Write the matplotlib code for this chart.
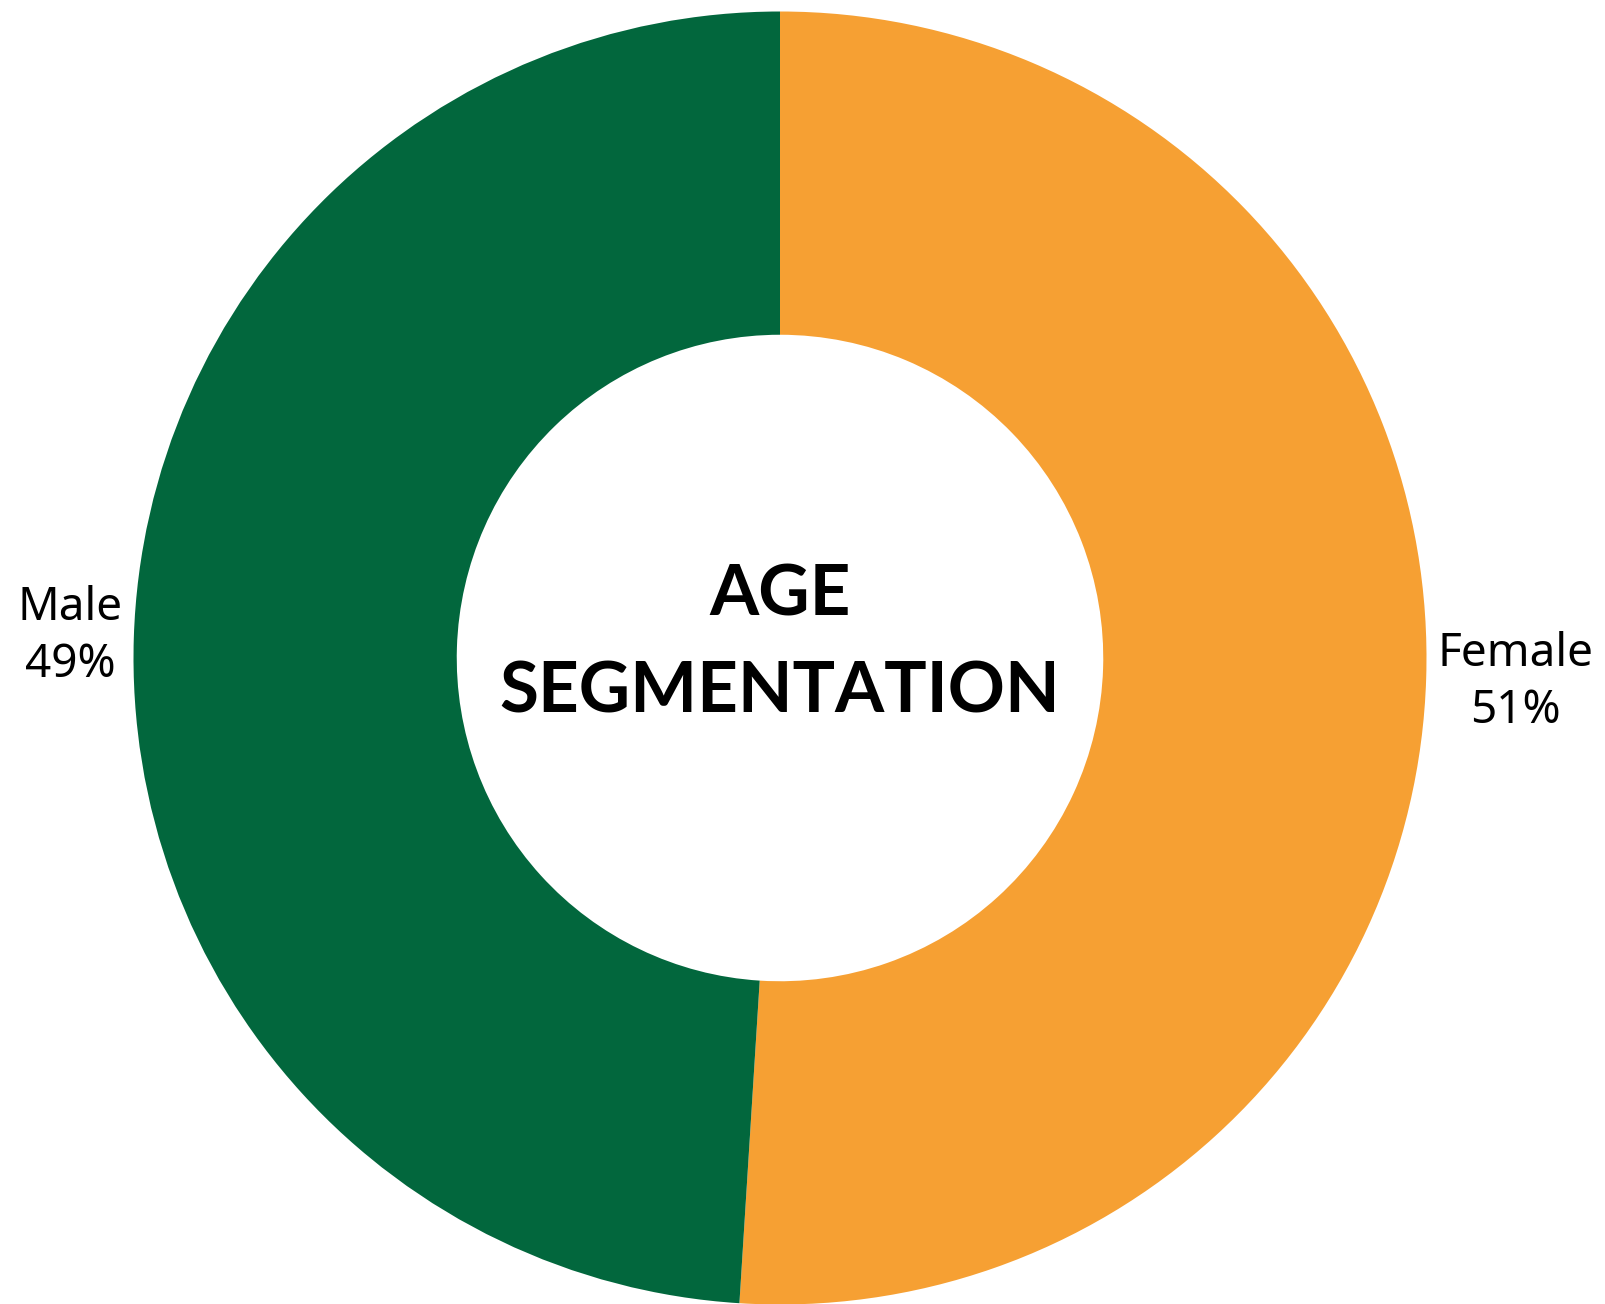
import matplotlib
matplotlib.use("Agg")
import matplotlib.pyplot as plt

# gender split, drawn clockwise from 12 o'clock
segments = ["Female", "Male"]
shares = [51, 49]
colors = ["#F6A033", "#02673D"]
center_title = "AGE\nSEGMENTATION"

fig = plt.figure(figsize=(16.06, 13.04), dpi=100)
ax = fig.add_axes([0, 0, 1, 1])

# one data unit = outer radius (about 646 px), centre at (780, 658) px
px = 646.5
cx, cy = 780, 658

ax.pie(shares, colors=colors, startangle=90, counterclock=False, radius=1.0,
       wedgeprops=dict(width=0.5, linewidth=0), normalize=True)
ax.set_xlim(-cx / px, (1606 - cx) / px)
ax.set_ylim((cy - 1304) / px, cy / px)
ax.set_aspect("auto")
ax.axis("off")

label_pos = {"Male": (-1.098, 0.033), "Female": (1.138, -0.038)}
for name, share in zip(segments, shares):
    x, y = label_pos[name]
    ax.text(x, y, f"{name}\n{share}%", ha="center", va="center",
            fontsize=33, family=["Noto Sans", "DejaVu Sans"],
            linespacing=1.3, color="black")

ax.text(0, 0.022, center_title, ha="center", va="center", fontsize=51,
        fontweight="bold", family=["Lato", "DejaVu Sans"], linespacing=1.6,
        color="black")

fig.savefig("out.png", dpi=100, facecolor="white")
